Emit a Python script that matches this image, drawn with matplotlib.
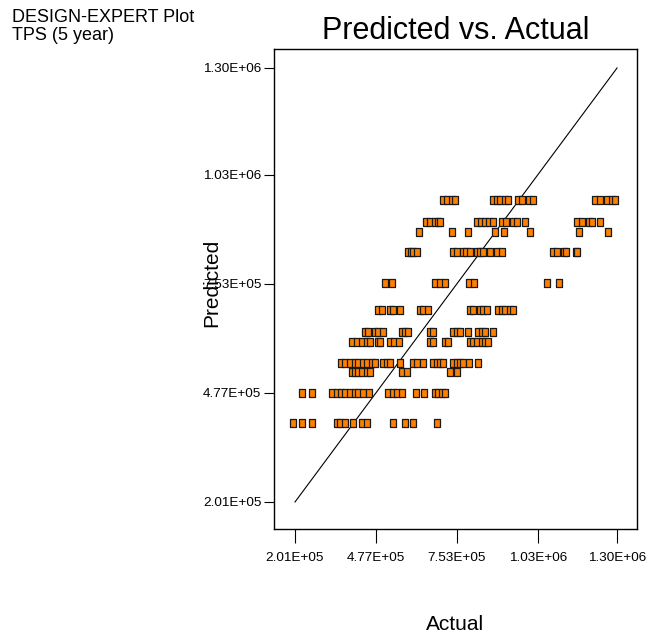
"""Predicted vs. Actual scatter (DESIGN-EXPERT style) for TPS (5 year)."""
import matplotlib

matplotlib.use("Agg")
import matplotlib.pyplot as plt

plt.rcParams["font.family"] = ["Liberation Sans", "DejaVu Sans"]

# predicted levels (in thousands) and the actual values seen on each level
pred_levels = [966, 910, 885, 834, 755, 687, 631, 606, 553, 530, 477, 401]

actual_966 = [706, 720, 737, 747, 877, 890, 901, 918, 928, 962, 976, 1000, 1013,
              1225, 1242, 1266, 1283, 1293]
actual_910 = [648, 662, 679, 689, 696, 822, 836, 849, 863, 877, 907, 921, 945, 959,
              986, 1163, 1181, 1204, 1215, 1242]
actual_885 = [624, 737, 791, 884, 914, 1003, 1170, 1269]
actual_834 = [587, 597, 604, 617, 740, 754, 774, 785, 798, 822, 832, 843, 867, 890,
              907, 1082, 1095, 1119, 1126, 1160, 1163]
actual_755 = [508, 532, 679, 696, 713, 795, 812, 1061, 1102]
actual_687 = [484, 498, 525, 535, 559, 628, 638, 655, 798, 808, 832, 843, 856, 894,
              907, 918, 935, 945]
actual_631 = [440, 450, 474, 484, 501, 566, 576, 587, 662, 672, 740, 754, 764, 791,
              825, 839, 849, 877]
actual_606 = [396, 413, 430, 447, 457, 484, 491, 525, 539, 556, 662, 672, 713, 723,
              798, 808, 822, 839, 849, 860]
actual_553 = [358, 372, 389, 406, 416, 433, 447, 464, 474, 501, 515, 525, 559, 604,
              617, 638, 672, 686, 696, 706, 740, 754, 764, 774, 795, 825]
actual_530 = [396, 406, 416, 430, 447, 457, 566, 583, 730, 754]
actual_477 = [225, 259, 327, 344, 358, 372, 389, 406, 416, 433, 454, 518, 535, 549,
              566, 614, 641, 679, 689, 703, 713]
actual_401 = [194, 225, 259, 344, 355, 372, 399, 430, 447, 535, 576, 604, 686]

actual_rows = [actual_966, actual_910, actual_885, actual_834, actual_755, actual_687,
               actual_631, actual_606, actual_553, actual_530, actual_477, actual_401]

tick_values = [2.01e5, 4.77e5, 7.53e5, 1.03e6, 1.30e6]
tick_labels = ["2.01E+05", "4.77E+05", "7.53E+05", "1.03E+06", "1.30E+06"]

actual = []
predicted = []
for level, row in zip(pred_levels, actual_rows):
    for a in row:
        actual.append(a * 1000)
        predicted.append(level * 1000)

fig = plt.figure(figsize=(6.5, 6.34), dpi=100)
ax = fig.add_axes([0.4215, 0.1656, 0.5585, 0.7571])

# 45 degree reference line
ax.plot([tick_values[0], tick_values[-1]], [tick_values[0], tick_values[-1]],
        color="black", lw=0.8, zorder=1)

rect = [(-0.75, -1), (0.75, -1), (0.75, 1), (-0.75, 1), (-0.75, -1)]
ax.plot(actual, predicted, linestyle="none", marker=rect, markersize=6.2,
        markerfacecolor="#FF8000", markeredgecolor="#1a1a1a", markeredgewidth=0.9,
        zorder=2)

ax.set_xlim(1.293e5, 1.368e6)
ax.set_ylim(1.326e5, 1.348e6)
ax.set_xticks(tick_values)
ax.set_xticklabels(tick_labels)
ax.set_yticks(tick_values)
ax.set_yticklabels(tick_labels)
ax.tick_params(axis="x", direction="out", length=10, width=0.8, pad=6.5, labelsize=9.7)
ax.tick_params(axis="y", direction="out", length=7, width=0.8, pad=2, labelsize=9.7)
for sp in ax.spines.values():
    sp.set_linewidth(1.0)

ax.set_title("Predicted vs. Actual", fontsize=22, pad=7)
ax.set_xlabel("Actual", fontsize=15, va="top")
ax.xaxis.set_label_coords(0.5, -0.179)
ax.set_ylabel("Predicted", fontsize=15)
ax.yaxis.set_label_coords(-0.146, 0.5135)

fig.text(12 / 650, 1 - 9 / 634, "DESIGN-EXPERT Plot\nTPS (5 year)", fontsize=13,
         va="top", ha="left", linespacing=1.05)

fig.savefig("out.png", dpi=100)
